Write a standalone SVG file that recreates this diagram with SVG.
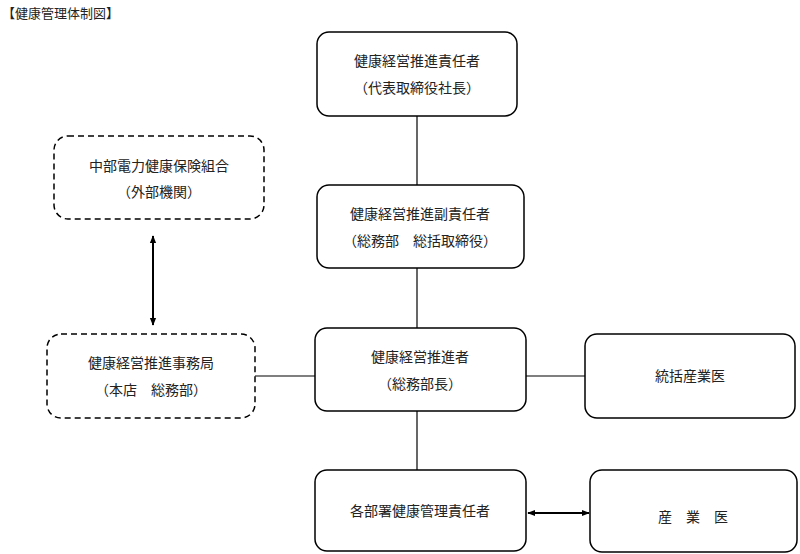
<svg xmlns="http://www.w3.org/2000/svg" width="800" height="554" viewBox="0 0 800 554">
<defs>
<marker id="ah" viewBox="0 0 10 10" refX="9" refY="5" markerWidth="8" markerHeight="8" markerUnits="userSpaceOnUse" orient="auto-start-reverse"><path d="M0,1 L10,5 L0,9 z" fill="#000"/></marker>
<style>
.b{fill:#fff;stroke:#000;stroke-width:1.5}
.d{fill:#fff;stroke:#000;stroke-width:1.5;stroke-dasharray:6,4}
text{font-family:"Noto Sans CJK JP","Noto Sans CJK SC",sans-serif;font-size:14px;fill:#222;text-anchor:middle}
.l{stroke:#000;stroke-width:1.2;fill:none}
.a{stroke:#000;stroke-width:2;fill:none}
</style>
</defs>
<rect width="800" height="554" fill="#fff"/>
<text x="2" y="18" style="text-anchor:start;font-size:13px">【健康管理体制図】</text>
<g id="connectors">
<line class="l" x1="417" y1="116" x2="417" y2="185"/>
<line class="l" x1="417" y1="268" x2="417" y2="328"/>
<line class="l" x1="417" y1="411" x2="417" y2="470"/>
<line class="l" x1="255" y1="376" x2="315" y2="376"/>
<line class="l" x1="526" y1="376" x2="585" y2="376"/>
<line class="a" x1="153" y1="236" x2="153" y2="325" marker-start="url(#ah)" marker-end="url(#ah)"/>
<line class="a" x1="528" y1="513" x2="589" y2="513" marker-start="url(#ah)" marker-end="url(#ah)"/>
</g>
<g id="n1"><rect class="b" x="317" y="32" width="200" height="84" rx="12"/><text x="417" y="66">健康経営推進責任者</text><text x="417" y="93">（代表取締役社長）</text></g>
<g id="n2"><rect class="b" x="317" y="185" width="207" height="83" rx="12"/><text x="420" y="219">健康経営推進副責任者</text><text x="420" y="246">（総務部　総括取締役）</text></g>
<g id="n3"><rect class="b" x="315" y="328" width="211" height="83" rx="12"/><text x="420" y="362">健康経営推進者</text><text x="420" y="389">（総務部長）</text></g>
<g id="n4"><rect class="b" x="315" y="470" width="211" height="81" rx="12"/><text x="420" y="516">各部署健康管理責任者</text></g>
<g id="nA"><rect class="d" x="54" y="136" width="210" height="83" rx="14"/><text x="159" y="171">中部電力健康保険組合</text><text x="159" y="197">（外部機関）</text></g>
<g id="nB"><rect class="d" x="47" y="334" width="208" height="84" rx="14"/><text x="151" y="368">健康経営推進事務局</text><text x="151" y="395">（本店　総務部）</text></g>
<g id="nC"><rect class="b" x="585" y="334" width="210" height="84" rx="12"/><text x="690" y="381">統括産業医</text></g>
<g id="nD"><rect class="b" x="590" y="470" width="207" height="82" rx="12"/><text x="693" y="522">産　業　医</text></g>
</svg>
